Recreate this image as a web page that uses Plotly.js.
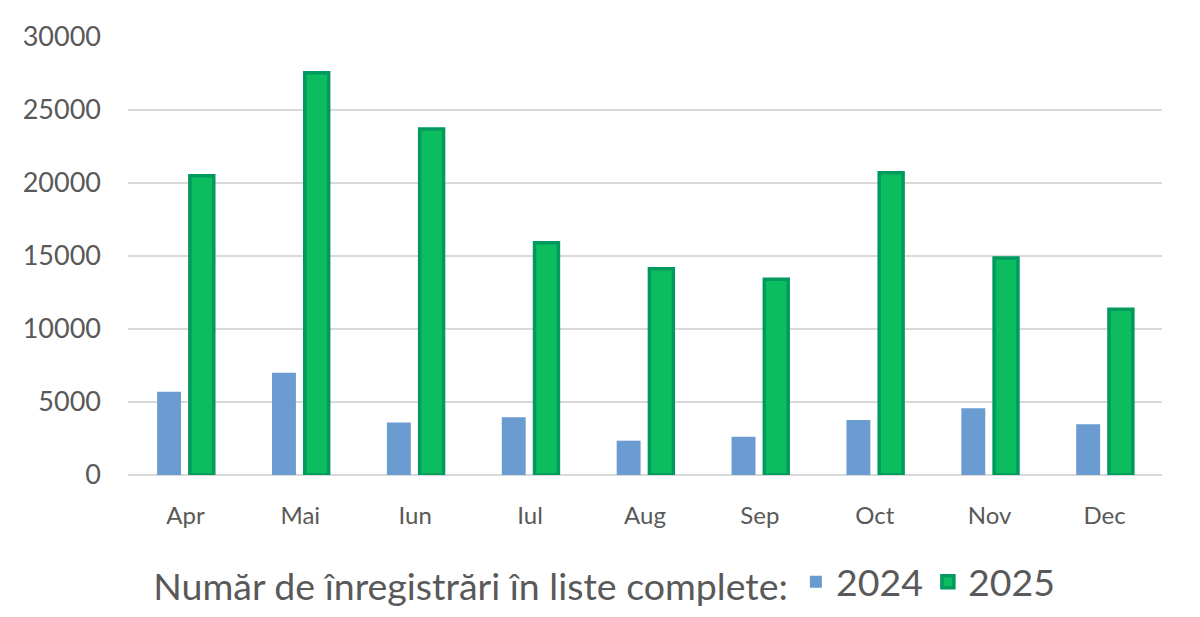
<!DOCTYPE html>
<html><head><meta charset="utf-8">
<script src="https://cdn.plot.ly/plotly-3.0.1.min.js"></script>
<style>html,body{margin:0;padding:0;background:#fff}#chart{width:1200px;height:617px}</style>
</head><body><div id="chart"></div>
<script>
const months = ["Apr","Mai","Iun","Iul","Aug","Sep","Oct","Nov","Dec"];
const values2024 = [5700, 7000, 3600, 3950, 2350, 2620, 3770, 4570, 3470];
const values2025 = [20500, 27550, 23700, 15900, 14130, 13400, 20700, 14860, 11350];
const yTicks = [0, 5000, 10000, 15000, 20000, 25000, 30000];
const legendTitle = "Număr de înregistrări în liste complete:";

const font = "Lato, 'Open Sans', sans-serif";
const traces = [
  {type:"bar", name:"2024", x:months, y:values2024,
   marker:{color:"#6a9bd1"}},
  {type:"bar", name:"2025", x:months, y:values2025,
   marker:{color:"#0cbd60", line:{color:"#009a5e", width:3.5}}}
];
const layout = {
  width:1200, height:617,
  margin:{l:127.5, r:37.5, t:37, b:142, autoexpand:false},
  paper_bgcolor:"#fff", plot_bgcolor:"#fff",
  barmode:"group", bargap:0.43, bargroupgap:0.27,
  font:{family:font, color:"#595959", size:20},
  xaxis:{tickfont:{size:24, color:"#595959"}, ticks:"", showline:false, showgrid:false, ticklabelstandoff:24},
  yaxis:{range:[0,30000], tickvals:yTicks, ticktext:yTicks.map(String),
         tickfont:{size:27, color:"#595959"}, gridcolor:"#d9d9d9", gridwidth:1.5,
         zeroline:true, zerolinecolor:"#d9d9d9", zerolinewidth:1.5, showline:false, ticklabelstandoff:26},
  showlegend:true,
  legend:{orientation:"h", x:0.462, xanchor:"center", y:-0.244, yanchor:"middle",
          title:{text:legendTitle, font:{size:37.5, color:"#595959"}, side:"left"},
          font:{size:37.5, color:"#595959"}, itemwidth:30, traceorder:"normal"}
};
Plotly.newPlot("chart", traces, layout, {displayModeBar:false, staticPlot:true});
</script></body></html>
